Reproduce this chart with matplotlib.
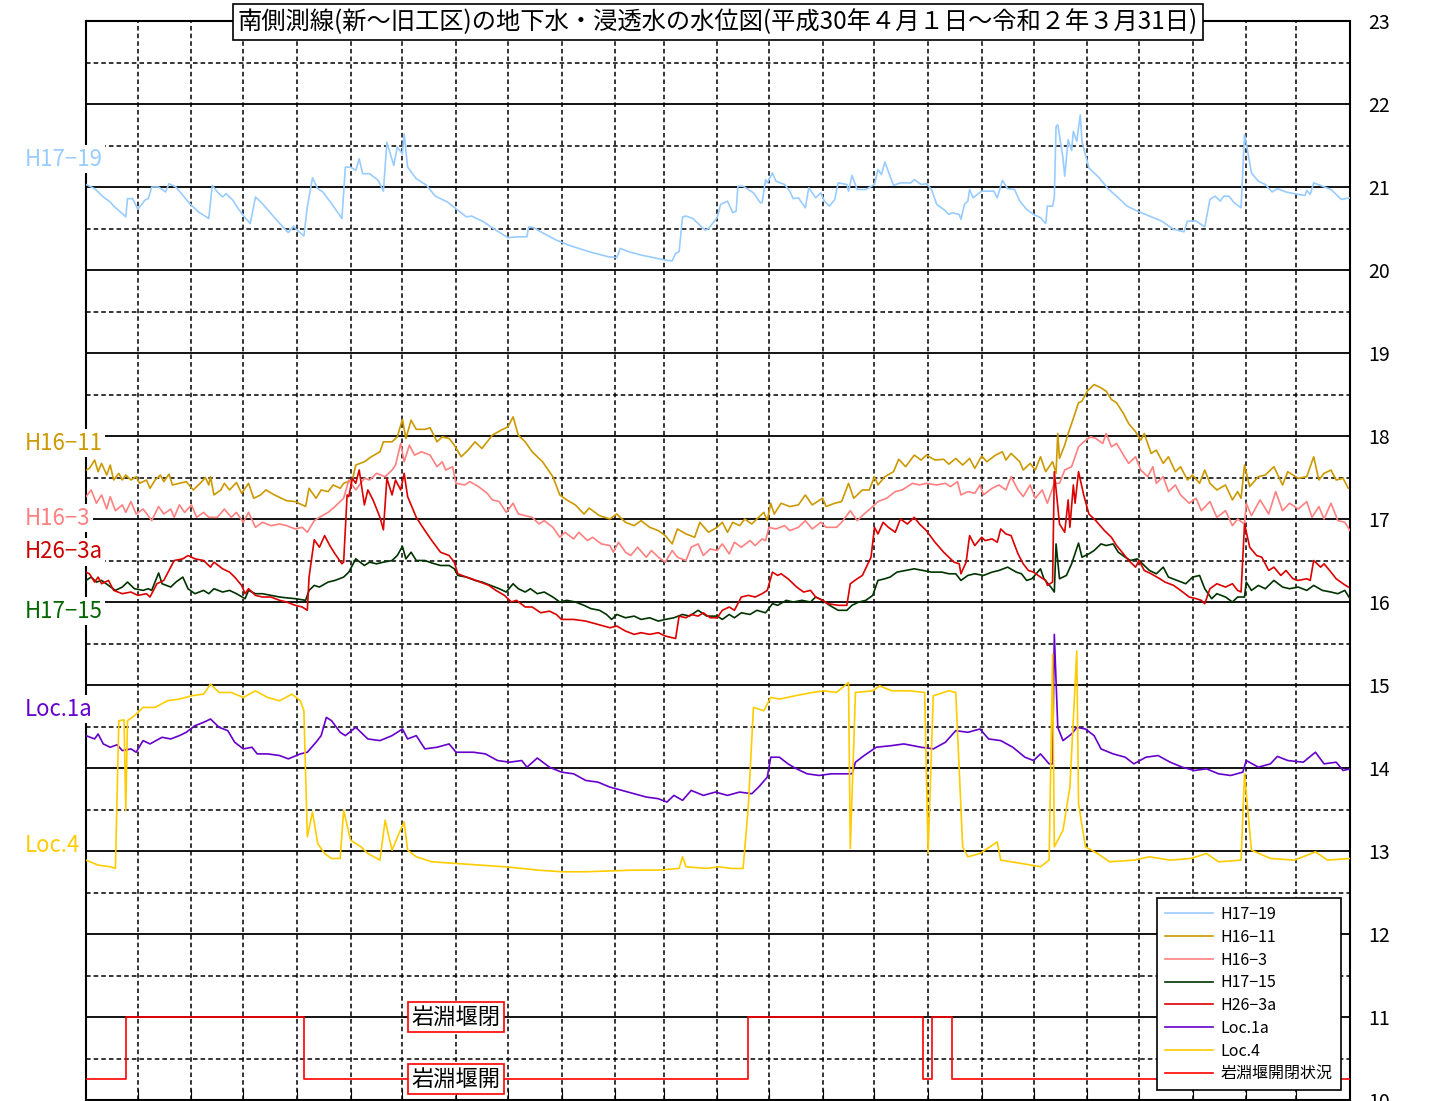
import matplotlib
matplotlib.use('Agg')
import matplotlib.pyplot as plt
import pandas as pd

plt.rcParams['font.family'] = ['Noto Sans CJK JP', 'DejaVu Sans']

# days since 2018-04-01, water levels (m)
h1719_days = [0,5,10,14,16,21,23,24,27,30,34,36,38,42,46,48,52,56,60,65,71,73,76,79,81,85,88,92,95,98,
              102,107,112,117,120,122,126,128,131,134,137,142,148,150,153,156,158,160,164,169,172,174,178,180,183,184,186,191,197,202,
              209,215,220,223,230,237,244,250,255,256,259,263,272,279,291,302,307,309,314,321,328,335,339,341,343,345,347,351,356,358,360,
              365,367,371,374,376,377,380,383,386,390,391,393,394,397,399,404,407,409,412,416,418,422,425,427,430,433,435,440,441,443,
              446,451,456,458,460,462,467,471,477,479,483,486,489,492,496,499,501,505,506,508,510,511,513,518,525,527,530,533,537,540,
              544,548,552,555,556,559,560,561,562,565,566,568,570,571,573,575,576,580,586,591,597,602,608,615,622,629,635,637,642,647,
              650,653,656,658,661,664,668,670,671,674,678,682,686,689,694,701,705,706,708,710,715,720,726,731]
h1719_vals = [21.03,20.98,20.88,20.82,20.77,20.68,20.64,20.86,20.86,20.73,20.84,20.86,21.0,21.0,20.94,21.04,21.0,20.9,20.8,20.7,
              20.62,21.02,20.94,20.88,20.92,20.84,20.74,20.63,20.56,20.88,20.8,20.68,20.56,20.45,20.53,20.48,20.41,20.76,21.11,20.98,
              20.94,20.8,20.62,21.24,21.24,21.2,21.34,21.16,21.16,21.08,20.95,21.54,21.26,21.48,21.4,21.64,21.24,21.1,21.02,20.89,
              20.82,20.72,20.64,20.65,20.58,20.48,20.39,20.4,20.4,20.52,20.51,20.46,20.36,20.3,20.22,20.16,20.15,20.26,20.22,20.18,
              20.15,20.12,20.11,20.2,20.22,20.64,20.65,20.62,20.52,20.48,20.5,
              20.63,20.79,20.83,20.69,20.71,21.01,21.01,20.97,20.93,20.81,20.81,21.09,21.05,21.17,21.07,21.03,20.95,20.86,20.87,20.75,
              20.99,20.87,20.93,20.83,20.77,20.85,21.05,21.03,20.95,21.14,20.97,20.97,21.03,21.21,21.15,21.3,21.02,21.05,21.05,21.09,
              21.03,21.04,20.97,20.79,20.73,20.67,20.69,20.67,20.61,20.79,20.83,20.97,20.87,20.95,20.95,20.87,21.08,20.98,20.97,20.83,
              20.73,20.67,20.63,20.56,20.77,20.77,20.87,21.73,21.75,21.35,21.13,21.57,21.44,21.67,21.55,21.87,21.55,21.23,21.11,20.98,
              20.87,20.77,20.71,20.65,20.59,20.49,20.46,20.59,20.59,20.52,20.85,20.89,20.83,20.89,20.89,20.81,20.75,21.63,21.53,21.17,
              21.07,21.03,20.94,20.98,20.94,20.91,20.9,20.96,20.91,21.05,21.01,20.97,20.85,20.87]

h1611_days = [0,2,5,7,9,12,14,16,19,21,23,26,29,31,35,37,40,43,45,48,50,54,58,62,66,69,71,72,74,78,
              80,83,87,90,92,94,97,101,104,109,116,121,127,129,133,136,140,143,147,149,154,156,161,165,170,172,177,180,183,185,
              188,191,196,199,203,206,210,213,217,221,225,229,235,240,244,247,250,254,258,264,270,274,278,283,288,291,297,303,307,312,
              317,321,326,331,335,339,342,347,352,355,360,
              365,368,371,374,378,381,385,388,392,394,396,398,402,407,412,416,420,426,428,433,437,441,444,449,453,456,458,462,467,470,
              474,479,483,486,491,496,499,503,507,511,514,518,521,526,530,532,535,540,542,546,549,552,555,559,561,562,563,566,568,570,
              574,576,579,583,587,590,593,596,600,603,607,610,612,616,619,623,626,630,633,637,640,644,647,650,654,659,663,666,668,670,
              673,678,682,687,692,695,701,706,710,713,716,720,723,727,730]
h1611_vals = [17.59,17.61,17.71,17.57,17.67,17.53,17.65,17.47,17.55,17.47,17.53,17.47,17.51,17.43,17.47,17.37,17.47,17.53,17.45,17.54,
              17.41,17.43,17.45,17.35,17.43,17.5,17.41,17.51,17.29,17.35,17.43,17.35,17.44,17.31,17.37,17.43,17.25,17.29,17.35,17.29,
              17.22,17.21,17.15,17.37,17.25,17.35,17.33,17.41,17.37,17.43,17.47,17.65,17.69,17.75,17.81,17.93,17.93,17.99,18.2,17.97,
              18.19,18.08,18.08,18.1,17.93,17.99,17.97,17.89,17.75,17.83,17.93,17.85,18.01,18.07,18.11,18.23,18.01,17.93,17.81,17.69,
              17.51,17.29,17.23,17.17,17.06,17.13,17.04,17.0,17.06,16.96,16.92,16.98,16.9,16.86,16.8,16.7,16.88,16.82,16.78,16.96,16.84,
              16.9,16.96,16.84,16.96,16.92,17.0,16.94,17.0,17.08,16.98,17.19,17.06,17.19,17.15,17.17,17.29,17.17,17.25,17.15,17.19,
              17.21,17.43,17.25,17.35,17.35,17.51,17.41,17.51,17.57,17.72,17.63,17.77,17.71,17.77,17.71,17.72,17.66,17.73,17.65,17.73,
              17.61,17.76,17.69,17.77,17.81,17.71,17.79,17.69,17.59,17.67,17.59,17.75,17.57,17.69,17.55,18.03,17.73,17.89,18.03,18.15,
              18.4,18.42,18.54,18.62,18.58,18.54,18.44,18.4,18.27,18.15,18.05,17.95,18.03,17.79,17.83,17.67,17.75,17.57,17.63,17.47,
              17.53,17.43,17.59,17.43,17.35,17.41,17.23,17.33,17.25,17.65,17.39,17.51,17.53,17.63,17.41,17.57,17.49,17.51,17.75,17.47,
              17.55,17.59,17.47,17.49,17.37]

h163_days = [0,3,6,9,12,14,17,21,23,26,29,33,36,38,42,45,49,51,54,57,61,64,68,71,76,80,84,87,91,94,
             98,102,107,112,116,121,125,128,132,135,140,144,149,152,156,161,164,168,173,177,179,182,184,187,190,194,199,203,206,208,
             212,214,219,222,227,232,235,239,243,247,250,254,258,262,265,270,274,277,282,285,290,293,298,303,305,308,312,315,319,324,
             327,331,335,339,342,347,350,354,357,361,
             365,368,372,375,379,384,387,391,393,395,399,404,407,412,416,420,425,428,434,437,442,446,450,455,458,463,468,472,478,482,
             486,492,497,500,504,506,510,514,517,519,524,528,532,535,539,542,546,549,553,556,560,563,566,570,574,577,581,584,588,590,
             593,596,600,603,607,610,614,617,619,623,626,630,633,638,642,645,650,654,659,663,666,670,671,674,679,684,688,692,696,701,
             706,709,713,716,720,724,728,731]
h163_vals = [17.27,17.35,17.19,17.29,17.12,17.27,17.1,17.17,17.08,17.21,17.06,17.12,17.04,16.98,17.15,17.06,17.12,17.02,17.17,17.08,
             17.17,17.02,17.08,17.02,17.02,17.12,17.02,17.08,16.96,17.08,16.9,16.96,16.92,16.94,16.92,16.88,16.9,16.84,16.98,17.02,
             17.08,17.15,17.25,17.47,17.35,17.49,17.47,17.55,17.51,17.59,17.65,17.91,17.69,17.89,17.77,17.81,17.77,17.63,17.69,17.59,
             17.63,17.43,17.41,17.45,17.39,17.31,17.23,17.21,17.08,17.19,17.06,17.04,17.02,16.94,16.98,16.9,16.78,16.84,16.76,16.84,
             16.74,16.78,16.7,16.68,16.6,16.72,16.6,16.56,16.66,16.54,16.62,16.54,16.48,16.62,16.54,16.5,16.66,16.7,16.56,16.64,
             16.62,16.7,16.58,16.72,16.66,16.74,16.68,16.76,16.74,16.9,16.88,16.92,16.86,16.9,16.98,16.88,16.96,16.9,16.9,16.96,
             17.1,16.98,17.06,17.15,17.21,17.25,17.33,17.35,17.43,17.41,17.43,17.41,17.43,17.39,17.45,17.29,17.33,17.31,17.41,17.29,
             17.37,17.41,17.35,17.51,17.35,17.27,17.41,17.25,17.35,17.19,17.43,17.43,17.59,17.63,17.87,17.93,17.99,17.97,17.91,18.03,
             17.87,17.91,17.77,17.67,17.75,17.59,17.51,17.63,17.43,17.51,17.33,17.41,17.29,17.19,17.25,17.1,17.21,17.02,17.1,16.92,
             17.0,16.94,17.19,17.04,17.23,17.06,17.33,17.1,17.19,17.12,17.21,17.02,17.15,17.0,17.19,16.98,16.96,16.86]

h1715_days = [0,3,6,9,13,17,21,24,28,33,36,38,42,44,49,52,56,59,63,68,71,74,79,83,87,92,94,98,102,107,
              112,116,121,127,129,132,135,140,144,149,152,156,161,164,168,172,177,180,183,185,188,191,196,200,205,210,213,215,220,225,
              229,234,239,243,247,250,254,257,261,265,270,274,278,283,288,292,297,301,304,307,312,317,321,326,331,335,340,345,349,354,359,
              365,368,372,375,379,384,388,393,397,400,405,409,414,419,422,426,430,435,440,443,447,451,455,458,462,465,469,474,479,484,
              489,495,499,503,506,510,514,519,524,528,533,538,541,544,547,552,554,558,560,561,563,567,570,574,576,580,583,587,590,594,
              597,601,604,608,611,615,619,623,626,631,636,640,644,647,651,654,659,663,666,670,671,674,678,682,687,692,696,701,706,710,
              715,720,724,728,731]
h1715_vals = [16.26,16.3,16.24,16.26,16.2,16.14,16.18,16.24,16.16,16.14,16.16,16.14,16.35,16.22,16.18,16.24,16.3,16.16,16.1,16.14,
              16.1,16.16,16.12,16.14,16.1,16.04,16.14,16.1,16.1,16.08,16.06,16.05,16.04,16.02,16.14,16.2,16.18,16.24,16.26,16.3,
              16.36,16.52,16.44,16.48,16.46,16.48,16.5,16.56,16.67,16.52,16.6,16.5,16.5,16.47,16.44,16.44,16.4,16.32,16.3,16.26,
              16.24,16.2,16.16,16.12,16.22,16.16,16.12,16.16,16.1,16.12,16.06,16.0,16.02,16.0,15.96,15.92,15.9,15.85,15.79,15.85,
              15.81,15.83,15.79,15.81,15.77,15.79,15.81,15.85,15.83,15.9,15.83,
              15.83,15.79,15.85,15.81,15.87,15.85,15.9,15.87,15.98,15.96,16.02,16.0,16.02,16.0,16.06,16.02,15.96,15.9,15.9,15.96,
              16.0,16.02,16.08,16.26,16.28,16.3,16.36,16.38,16.4,16.38,16.36,16.36,16.34,16.34,16.26,16.32,16.34,16.32,16.36,16.38,
              16.42,16.36,16.34,16.26,16.28,16.4,16.28,16.18,16.12,16.7,16.28,16.32,16.46,16.71,16.54,16.58,16.62,16.7,16.68,16.7,
              16.6,16.54,16.5,16.52,16.46,16.38,16.34,16.42,16.3,16.26,16.22,16.3,16.32,16.16,16.04,16.1,16.06,16.0,16.06,16.06,
              16.24,16.14,16.2,16.16,16.26,16.18,16.16,16.18,16.14,16.2,16.14,16.12,16.1,16.14,16.04]

h263a_days = [0,2,5,7,9,13,16,21,26,30,35,37,41,45,48,51,56,59,63,68,72,74,79,83,86,90,92,94,98,102,
              107,112,116,121,125,128,129,132,135,138,141,144,148,149,151,152,154,156,158,161,163,166,170,172,174,177,179,182,184,186,
              191,196,200,205,210,213,215,220,223,228,233,237,242,246,249,254,258,263,268,272,275,282,289,296,303,307,312,317,321,326,
              331,335,341,343,347,350,354,357,361,
              365,368,372,375,379,383,387,391,394,397,400,402,406,411,415,419,422,426,429,435,440,442,446,449,454,456,458,461,464,468,
              471,475,479,482,486,491,496,502,505,506,509,511,514,518,520,524,527,529,532,535,539,542,545,548,552,555,556,559,560,562,
              563,566,568,569,571,572,574,577,580,584,589,593,596,600,603,607,609,612,616,621,624,629,633,638,642,645,647,650,654,659,
              663,666,668,670,673,677,680,684,687,691,694,698,701,706,708,710,714,716,720,723,727,730]
h263a_vals = [16.36,16.34,16.24,16.3,16.22,16.26,16.14,16.1,16.12,16.08,16.1,16.06,16.22,16.26,16.38,16.5,16.52,16.56,16.52,16.5,
              16.42,16.48,16.4,16.36,16.3,16.2,16.1,16.16,16.08,16.06,16.06,16.02,16.0,15.96,15.94,15.9,16.3,16.75,16.66,16.8,
              16.68,16.58,16.46,16.48,17.29,17.27,17.49,17.43,17.59,17.17,17.35,17.23,17.02,16.87,17.49,17.29,17.47,17.35,17.55,17.27,
              17.02,16.86,16.74,16.6,16.56,16.48,16.34,16.3,16.28,16.24,16.2,16.14,16.08,16.0,16.02,15.94,15.94,15.87,15.89,15.85,
              15.79,15.79,15.77,15.73,15.69,15.71,15.65,15.61,15.63,15.61,15.63,15.59,15.56,15.83,15.81,15.85,15.83,15.87,15.81,
              15.81,15.9,15.94,15.9,16.06,16.08,16.06,16.1,16.14,16.36,16.32,16.34,16.28,16.18,16.12,16.14,16.06,16.02,15.98,15.96,
              15.96,16.22,16.28,16.32,16.54,16.9,16.82,16.96,16.9,16.84,17.0,16.94,17.02,16.94,16.86,16.72,16.6,16.48,16.46,16.34,
              16.48,16.8,16.68,16.78,16.74,16.76,16.72,16.88,16.82,16.8,16.58,16.46,16.38,16.36,16.3,16.26,16.2,16.24,17.57,17.15,
              16.94,16.84,17.23,16.9,17.41,17.19,17.57,17.29,17.06,16.98,16.86,16.78,16.68,16.58,16.5,16.42,16.5,16.38,16.34,16.28,
              16.24,16.2,16.14,16.06,16.04,16.02,15.98,16.16,16.22,16.18,16.22,16.14,16.12,16.94,16.66,16.56,16.54,16.38,16.42,16.32,
              16.38,16.28,16.26,16.28,16.26,16.5,16.42,16.46,16.36,16.28,16.22,16.18]

loc1a_days = [0,5,7,10,14,18,21,26,29,33,37,44,49,54,58,63,68,72,77,82,86,91,96,99,105,112,117,124,128,133,
              136,139,142,147,150,156,163,170,177,183,186,191,196,203,210,214,224,231,238,245,252,255,261,268,275,282,289,296,303,310,
              317,324,331,336,340,345,350,357,364,371,378,385,389,394,396,401,406,410,417,424,431,438,443,445,450,457,466,473,483,490,
              497,503,510,517,522,529,536,543,548,552,557,559,560,562,565,570,573,578,583,587,594,601,606,613,620,627,634,641,648,655,
              662,669,671,678,685,689,695,704,711,716,723,727,731]
loc1a_vals = [14.39,14.35,14.41,14.29,14.25,14.28,14.21,14.23,14.19,14.33,14.29,14.37,14.35,14.39,14.43,14.51,14.55,14.59,14.49,14.45,
              14.31,14.23,14.25,14.17,14.17,14.15,14.11,14.17,14.19,14.31,14.39,14.61,14.57,14.43,14.39,14.49,14.35,14.33,14.39,14.47,
              14.35,14.39,14.23,14.25,14.29,14.19,14.19,14.17,14.09,14.07,14.09,14.01,14.12,14.01,13.95,13.93,13.85,13.83,13.77,13.73,
              13.69,13.65,13.63,13.59,13.67,13.61,13.73,13.67,13.71,13.67,13.71,13.69,13.77,13.89,14.13,14.13,14.05,14.0,13.93,13.91,
              13.93,13.93,13.93,14.07,14.15,14.25,14.27,14.29,14.25,14.23,14.31,14.45,14.43,14.47,14.35,14.33,14.25,14.13,14.09,14.17,
              14.05,14.05,15.61,14.49,14.33,14.41,14.49,14.47,14.39,14.23,14.17,14.13,14.05,14.13,14.15,14.07,14.01,13.97,13.99,13.93,
              13.91,13.95,14.09,14.01,14.05,14.14,14.09,14.07,14.19,14.05,14.07,13.97,13.99]

loc4_days = [0,7,14,17,19,22,23,24,28,33,40,47,54,61,68,72,77,84,91,98,105,112,119,124,126,128,131,134,138,142,
             147,149,153,159,163,170,173,177,181,184,186,191,200,214,228,242,252,261,275,289,303,317,331,343,345,347,359,366,373,380,
             383,386,392,396,401,410,420,427,434,441,442,445,455,459,466,476,485,487,490,499,503,507,510,517,527,529,541,552,557,559,
             560,565,569,573,574,578,585,592,606,615,627,639,648,655,668,670,674,685,699,711,718,731]
loc4_vals = [12.89,12.83,12.81,12.79,14.57,14.58,13.49,14.57,14.63,14.73,14.73,14.81,14.83,14.87,14.89,15.01,14.91,14.91,14.85,14.93,
             14.85,14.81,14.89,14.81,14.69,13.17,13.47,13.09,12.97,12.91,12.91,13.49,13.13,13.05,12.97,12.89,13.37,13.01,13.21,13.35,
             13.01,12.93,12.87,12.85,12.83,12.81,12.79,12.77,12.75,12.75,12.76,12.77,12.77,12.79,12.93,12.81,12.79,12.81,12.79,12.79,
             13.53,14.73,14.69,14.85,14.83,14.87,14.91,14.93,14.91,15.03,13.03,14.91,14.93,14.99,14.93,14.93,14.91,12.97,14.87,14.93,
             14.91,13.05,12.93,12.97,13.11,12.89,12.85,12.81,12.89,15.37,13.05,13.25,13.77,15.41,13.57,13.05,12.97,12.87,12.89,12.93,
             12.89,12.91,12.97,12.87,12.89,13.93,13.01,12.91,12.89,12.99,12.89,12.91]

# weir open/close status (high = closed, low = open)
dam_days = [0, 23, 126, 383, 484, 489, 501, 731]
dam_vals = [10.25, 11.0, 10.25, 11.0, 10.25, 11.0, 10.25, 10.25]

series_names = ['H17−19', 'H16−11', 'H16−3', 'H17−15', 'H26−3a', 'Loc.1a', 'Loc.4', '岩淵堰開閉状況']
line_colors = ['#99CCFF', '#CC9900', '#FF8080', '#003300', '#DD0000', '#6600CC', '#FFCC00', '#FF0000']

start = pd.Timestamp('2018-04-01')
month_days = [(d - start).days for d in pd.date_range('2018-05-01', '2020-03-01', freq='MS')]

fig = plt.figure(figsize=(14.3, 11.01), dpi=100)
ax = fig.add_axes([86/1430, 1 - 1100/1101, 1264/1430, 1079/1101])

# grid
for v in range(10, 24):
    ax.axhline(v, color='black', lw=1.3, zorder=1)
for v in range(10, 23):
    ax.axhline(v + 0.5, color='black', lw=1.1, ls=(0, (3, 2)), zorder=1)
for d in month_days:
    ax.axvline(d, color='black', lw=1.1, ls=(0, (3, 2)), zorder=1)

all_days = [h1719_days, h1611_days, h163_days, h1715_days, h263a_days, loc1a_days, loc4_days]
all_vals = [h1719_vals, h1611_vals, h163_vals, h1715_vals, h263a_vals, loc1a_vals, loc4_vals]
for dd, vv, nm, col in zip(all_days, all_vals, series_names[:7], line_colors[:7]):
    ax.plot(dd, vv, color=col, lw=1.2, label=nm, zorder=3)
ax.step(dam_days, dam_vals, where='post', color=line_colors[7], lw=1.2, label=series_names[7], zorder=3)

ax.set_xlim(0, 731)
ax.set_ylim(10, 23)
ax.set_yticks(range(10, 24))
ax.yaxis.tick_right()
ax.tick_params(axis='y', length=0, pad=13, labelsize=14)
ax.set_xticks(month_days)
ax.tick_params(axis='x', direction='in', length=8, labelbottom=False)
for s in ax.spines.values():
    s.set_linewidth(1.5)

# weir labels
ax.text(214, 11.0, '岩淵堰閉', fontsize=16, ha='center', va='center', zorder=5,
        bbox=dict(boxstyle='square,pad=0.15', fc='white', ec='red', lw=1.2))
ax.text(214, 10.25, '岩淵堰開', fontsize=16, ha='center', va='center', zorder=5,
        bbox=dict(boxstyle='square,pad=0.15', fc='white', ec='red', lw=1.2))

leg = ax.legend(loc='lower right', bbox_to_anchor=(0.9925, 0.009), borderaxespad=0, fontsize=11.5,
                frameon=True, fancybox=False, edgecolor='black', framealpha=1, handlelength=3.0,
                handletextpad=0.45, labelspacing=0.36, borderpad=0.5)
leg.get_frame().set_linewidth(1.2)

# series name labels on the left
label_text = ['H17−19', 'H16−11', 'H16−3', 'H26−3a', 'H17−15', 'Loc.1a', 'Loc.4']
label_y = [159, 443, 518, 552, 611, 709, 845]
label_col = ['#99CCFF', '#CC9900', '#FF8080', '#CC0000', '#006600', '#6600CC', '#FFCC00']
for t, y, c in zip(label_text, label_y, label_col):
    fig.text(25/1430, 1 - y/1101, t, color=c, fontsize=16, ha='left', va='center',
             bbox=dict(boxstyle='square,pad=0.1', fc='white', ec='none'))

fig.text(718/1430, 1 - 22/1101,
         '南側測線(新～旧工区)の地下水・浸透水の水位図(平成30年４月１日～令和２年３月31日)',
         fontsize=17.5, ha='center', va='center',
         bbox=dict(boxstyle='square,pad=0.2', fc='white', ec='black', lw=1.2))

fig.savefig('out.png', dpi=100)
